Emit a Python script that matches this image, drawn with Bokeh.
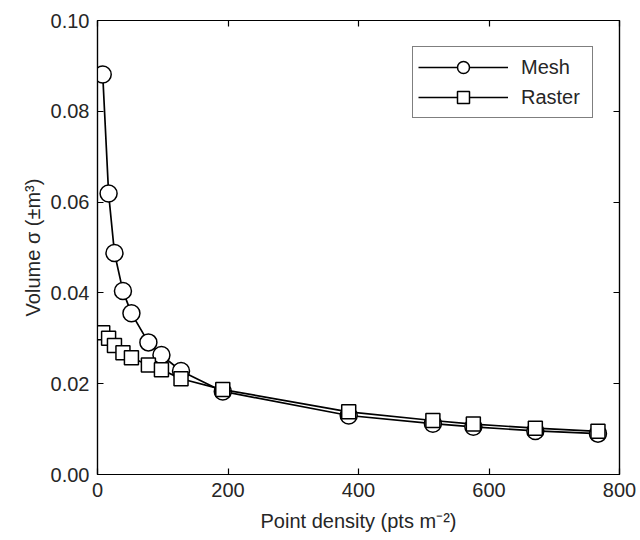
from bokeh.plotting import figure
from bokeh.models import (LinearAxis, Range1d, FixedTicker, NumeralTickFormatter,
                          Legend, LegendItem, ColumnDataSource)
from bokeh.embed import file_html
from bokeh.resources import INLINE

# Data
density = [8, 17, 26, 39, 52, 78, 98, 128, 192, 385, 514, 576, 671, 767]
mesh_sigma = [0.0881, 0.0619, 0.0488, 0.0404, 0.0355, 0.0291, 0.0263, 0.0228,
              0.0183, 0.0130, 0.0112, 0.0105, 0.0096, 0.0090]
raster_sigma = [0.0312, 0.0300, 0.0284, 0.0268, 0.0257, 0.0241, 0.0231, 0.0211,
                0.0187, 0.0138, 0.0119, 0.0111, 0.0102, 0.0095]
x_ticks = [0, 200, 400, 600, 800]
y_ticks = [0.00, 0.02, 0.04, 0.06, 0.08, 0.10]

FONT = "Liberation Sans"
TXT = "#262626"

p = figure(width=640, height=540, output_backend="svg", toolbar_location=None,
           x_range=Range1d(0, 800), y_range=Range1d(0, 0.10),
           min_border_left=97, min_border_right=21, min_border_top=20,
           min_border_bottom=66, background_fill_color="white",
           border_fill_color="white")
p.grid.visible = False
p.outline_line_color = "black"
p.outline_line_width = 1.2

def style_axis(ax, show_labels=True):
    ax.major_tick_in = 6
    ax.major_tick_out = 0
    ax.minor_tick_in = 0
    ax.minor_tick_out = 0
    ax.axis_line_color = "black"
    ax.axis_line_width = 1.2
    ax.major_tick_line_color = "black"
    ax.major_tick_line_width = 1.2
    ax.major_label_text_font = FONT
    ax.major_label_text_font_size = "20px"
    ax.major_label_text_color = TXT
    ax.axis_label_text_font = FONT
    ax.axis_label_text_font_size = "20px"
    ax.axis_label_text_font_style = "normal"
    ax.axis_label_text_color = TXT
    if not show_labels:
        ax.major_label_text_font_size = "0px"
        ax.major_label_text_alpha = 0

xa = p.xaxis[0]
ya = p.yaxis[0]
xa.ticker = FixedTicker(ticks=x_ticks)
ya.ticker = FixedTicker(ticks=y_ticks)
ya.formatter = NumeralTickFormatter(format="0.00")
style_axis(xa)
style_axis(ya)
xa.axis_label = "Point density (pts m⁻²)"
ya.axis_label = "Volume σ (±m³)"
xa.major_label_standoff = 8
ya.major_label_standoff = 8
xa.axis_label_standoff = 10
ya.axis_label_standoff = 4

ra = LinearAxis(ticker=FixedTicker(ticks=y_ticks))
style_axis(ra, show_labels=False)
p.add_layout(ra, "right")
ta = LinearAxis(ticker=FixedTicker(ticks=x_ticks))
style_axis(ta, show_labels=False)
p.add_layout(ta, "above")

src = ColumnDataSource(dict(x=density, mesh=mesh_sigma, raster=raster_sigma))

ml = p.line("x", "mesh", source=src, line_color="black", line_width=1.7)
ms = p.scatter("x", "mesh", source=src, marker="circle", size=17,
               fill_color="white", line_color="black", line_width=1.5)
rl = p.line("x", "raster", source=src, line_color="black", line_width=1.7)
rs = p.scatter("x", "raster", source=src, marker="square", size=14,
               fill_color="white", line_color="black", line_width=1.5)

legend = Legend(items=[LegendItem(label="Mesh", renderers=[ml, ms]),
                       LegendItem(label="Raster", renderers=[rl, rs])],
                location="top_right", margin=26, padding=5, spacing=0,
                glyph_width=90, glyph_height=30, label_height=30,
                label_standoff=13, label_width=66,
                label_text_font=FONT, label_text_font_size="20px",
                label_text_color=TXT, border_line_color="black",
                border_line_width=1.2, background_fill_color="white",
                background_fill_alpha=1)
p.add_layout(legend)

open("out.html", "w").write(file_html(p, INLINE))
